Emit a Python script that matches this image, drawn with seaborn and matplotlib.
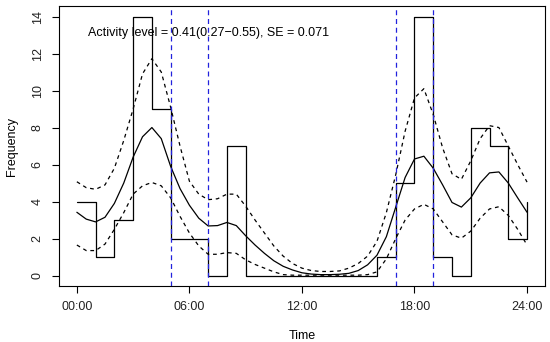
import numpy as np
import pandas as pd
import seaborn as sns
import matplotlib
matplotlib.use('Agg')
import matplotlib.pyplot as plt

# hourly counts (step outline), last point closes the day
hours = list(range(25))
counts = [4, 1, 3, 14, 9, 2, 2, 0, 7, 0, 0, 0, 0, 0, 0, 0, 1, 5, 14, 1, 0, 8, 7, 2, 4]

# smoothed activity curve with confidence band, read every half hour
t = [i / 2 for i in range(49)]
fit = [3.42, 3.05, 2.9, 3.15, 3.9, 5.0, 6.4, 7.5, 8.0, 7.4, 5.9, 4.7, 3.8, 3.1,
       2.68, 2.7, 2.87, 2.7, 2.15, 1.65, 1.2, 0.8, 0.5, 0.3, 0.15, 0.08, 0.05,
       0.05, 0.07, 0.12, 0.27, 0.58, 1.1, 2.1, 3.7, 5.3, 6.3, 6.45, 5.8, 4.9,
       3.95, 3.7, 4.2, 5.0, 5.55, 5.6, 5.0, 4.2, 3.42]
upper = [5.07, 4.75, 4.66, 4.9, 5.8, 7.3, 9.0, 10.9, 11.72, 11.0, 9.1, 7.0, 5.1,
         4.4, 4.1, 4.15, 4.4, 4.4, 3.75, 3.0, 2.3, 1.6, 1.05, 0.65, 0.4, 0.27,
         0.22, 0.22, 0.25, 0.4, 0.65, 1.05, 1.85, 3.4, 5.45, 7.8, 9.6, 10.1, 8.7,
         6.9, 5.5, 5.2, 6.2, 7.4, 8.1, 8.0, 7.0, 6.0, 5.05]
lower = [1.65, 1.35, 1.35, 1.7, 2.5, 3.4, 4.4, 4.85, 5.03, 4.85, 4.2, 3.2, 2.3,
         1.6, 1.15, 1.15, 1.24, 1.2, 0.85, 0.6, 0.4, 0.2, 0.05, 0.02, 0.02, 0.02,
         0.02, 0.02, 0.02, 0.02, 0.02, 0.05, 0.2, 0.9, 2.0, 3.0, 3.6, 3.85, 3.6,
         2.9, 2.2, 2.02, 2.4, 3.1, 3.6, 3.72, 3.25, 2.5, 1.65]

# twilight boundaries
vlines = [5, 7, 17, 19]
xticks = [0, 6, 12, 18, 24]
xlabels = ['00:00', '06:00', '12:00', '18:00', '24:00']
label = 'Activity level = 0.41(0.27\u22120.55), SE = 0.071'

sns.set_theme(style='white')
plt.rcParams['font.family'] = ['Liberation Sans', 'DejaVu Sans']
plt.rcParams['text.color'] = 'black'
plt.rcParams['axes.labelcolor'] = 'black'
plt.rcParams['xtick.color'] = '#222222'
plt.rcParams['ytick.color'] = '#222222'

fig = plt.figure(figsize=(5.5, 3.42), dpi=100)
ax = fig.add_axes([0.107, 0.164, 0.884, 0.818])

sns.lineplot(x=hours, y=counts, drawstyle='steps-post', color='black',
             lw=0.9, estimator=None, ax=ax)
sns.lineplot(x=t, y=fit, color='black', lw=0.9, estimator=None, ax=ax)
sns.lineplot(x=t, y=upper, color='black', lw=0.9, estimator=None, ax=ax,
             dashes=False, linestyle=(0, (3, 3)))
sns.lineplot(x=t, y=lower, color='black', lw=0.9, estimator=None, ax=ax,
             dashes=False, linestyle=(0, (3, 3)))
for v in vlines:
    ax.axvline(v, color='#2222dd', lw=0.9, linestyle=(0, (4, 3)))

ax.text(0.6, 13.1, label, fontsize=9, ha='left', va='center', color='black')

ax.set_xlim(-0.96, 24.96)
ax.set_ylim(-0.56, 14.56)
ax.set_xticks(xticks)
ax.set_xticklabels(xlabels)
ax.set_yticks(range(0, 15, 2))
ax.tick_params(axis='both', labelsize=9, length=5, width=0.8, direction='out',
               color='black', bottom=True, left=True, pad=6)
plt.setp(ax.get_yticklabels(), rotation=90, va='center')
ax.set_xlabel('Time', fontsize=9, labelpad=12)
ax.set_ylabel('Frequency', fontsize=9, labelpad=10)
for s in ax.spines.values():
    s.set_color('black')
    s.set_linewidth(0.8)

fig.savefig('out.png', dpi=100)
